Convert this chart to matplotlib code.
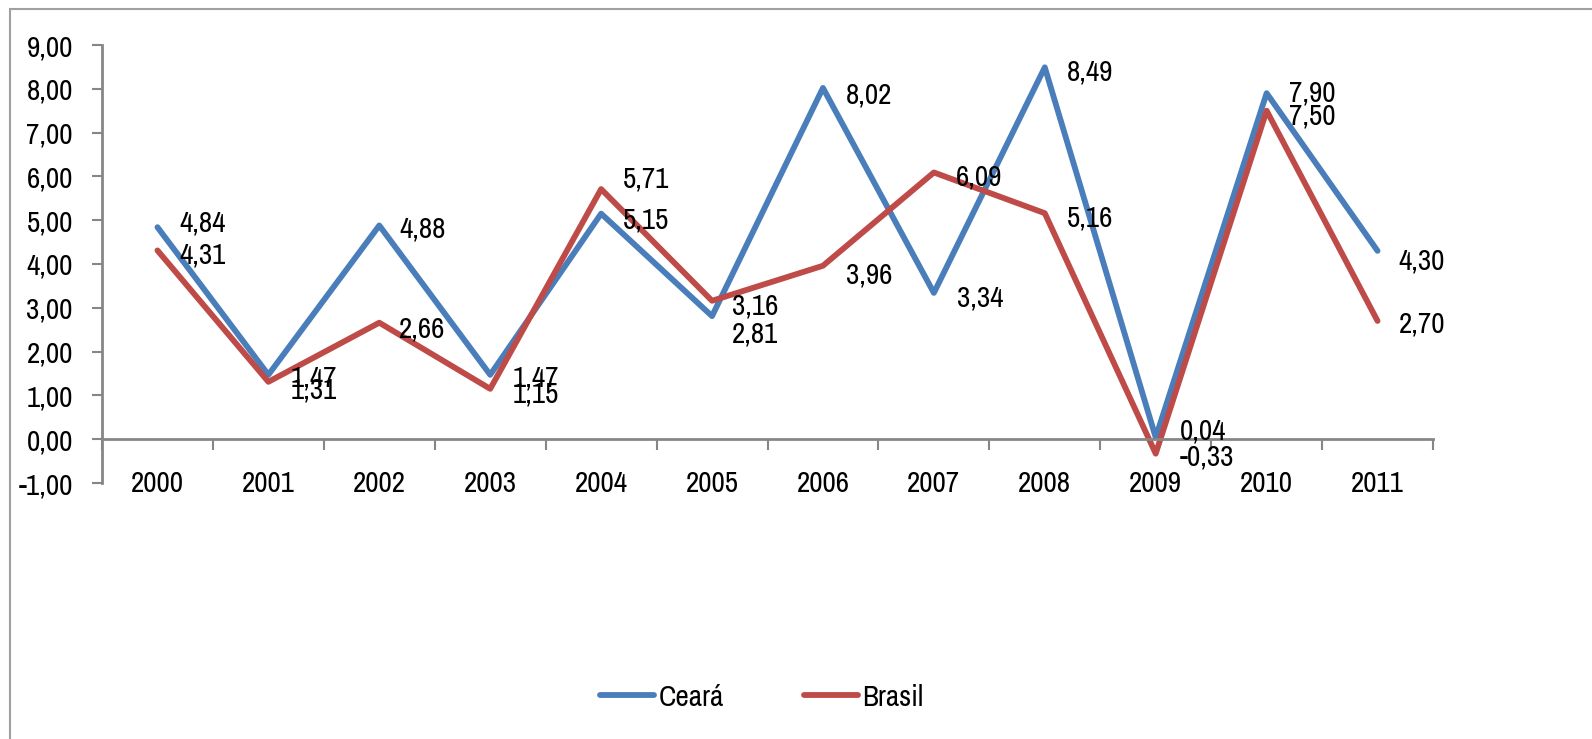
import matplotlib
matplotlib.use("Agg")
import numpy as np
from matplotlib import font_manager
from matplotlib import pyplot as plt
from matplotlib.patches import Rectangle
from matplotlib.ticker import FuncFormatter

years = ["2000", "2001", "2002", "2003", "2004", "2005",
         "2006", "2007", "2008", "2009", "2010", "2011"]
ceara = [4.84, 1.47, 4.88, 1.47, 5.15, 2.81, 8.02, 3.34, 8.49, 0.04, 7.90, 4.30]
brasil = [4.31, 1.31, 2.66, 1.15, 5.71, 3.16, 3.96, 6.09, 5.16, -0.33, 7.50, 2.70]

# label offsets in pixels (dx right, dy down) as placed in the original
ceara_off = [(22, -4), (22, 3), (20, 4), (22, 3), (22, 6), (20, 18),
             (23, 7), (23, 5), (22, 5), (24, -6), (22, 0), (21, 10)]
brasil_off = [(22, 5), (22, 8), (20, 6), (22, 5), (22, -10), (20, 5),
              (23, 9), (22, 5), (22, 5), (24, 3), (22, 5), (21, 3)]

BLUE = "#4A7EBB"
RED = "#BE4B48"
GRAY = "#868686"

# pick a narrow face if there is one (original uses Calibri)
fonts = font_manager.fontManager.ttflist
narrow = [f for f in fonts if "Narrow" in f.name or "Condensed" in f.name]
cond = [f for f in fonts if f.name == "DejaVu Sans" and f.stretch == "condensed"]
if any(f.name == "Liberation Sans Narrow" for f in fonts):
    plt.rcParams["font.family"] = ["Liberation Sans Narrow", "DejaVu Sans"]
    FS = 19
elif narrow:
    plt.rcParams["font.family"] = [narrow[0].name, "DejaVu Sans"]
    FS = 21
elif cond:
    plt.rcParams["font.family"] = ["DejaVu Sans"]
    plt.rcParams["font.stretch"] = "condensed"
    FS = 16
else:
    plt.rcParams["font.family"] = ["DejaVu Sans"]
    FS = 15

W, H = 1592, 739
fig = plt.figure(figsize=(W / 100, H / 100), dpi=100)

# outer chart frame (only left and top are visible in the crop)
fig.patches.append(Rectangle((10 / W, -0.1), 1.2, 1 - 9 / H + 0.1,
                             transform=fig.transFigure, fill=False,
                             edgecolor="#A0A0A0", linewidth=1.5))

ax = fig.add_axes([102 / W, 1 - 483 / H, (1433 - 102) / W, (483 - 45) / H])

x = np.arange(len(years))
ax.plot(x, ceara, color=BLUE, lw=4.2, solid_capstyle="round", label="Ceará")
ax.plot(x, brasil, color=RED, lw=4.2, solid_capstyle="round", label="Brasil")


def fmt(v):
    return f"{v:.2f}".replace(".", ",")


for vals, offs in ((ceara, ceara_off), (brasil, brasil_off)):
    for i, v in enumerate(vals):
        dx, dy = offs[i]
        ax.annotate(fmt(v), (i, v), xytext=(dx * 0.72, -dy * 0.72),
                    textcoords="offset points", ha="left", va="center",
                    fontsize=FS)

ax.set_xlim(-0.5, 11.5)
ax.set_ylim(-1, 9)
ax.set_yticks(np.arange(-1, 10))
ax.yaxis.set_major_formatter(FuncFormatter(lambda v, p: fmt(v)))
ax.tick_params(axis="y", direction="out", length=7, width=1.5, color=GRAY,
               labelsize=FS, pad=14)

# category axis crosses at zero, ticks at category boundaries
ax.spines["bottom"].set_position(("data", 0))
ax.set_xticks(np.arange(-0.5, 12, 1))
ax.set_xticklabels([])
ax.tick_params(axis="x", direction="out", length=8, width=1.5, color=GRAY)
for i, yr in enumerate(years):
    ax.text(i, -1, yr, ha="center", va="center", fontsize=FS)

for s in ("top", "right"):
    ax.spines[s].set_visible(False)
for s in ("left", "bottom"):
    ax.spines[s].set_color(GRAY)
    ax.spines[s].set_linewidth(2)

fig.legend(loc="center", bbox_to_anchor=(762 / W, 1 - 697 / H), ncol=2,
           frameon=False, fontsize=FS, handlelength=54 / (FS * 1.389),
           handletextpad=0.15, columnspacing=80 / (FS * 1.389))

fig.savefig("out.png", dpi=100)
